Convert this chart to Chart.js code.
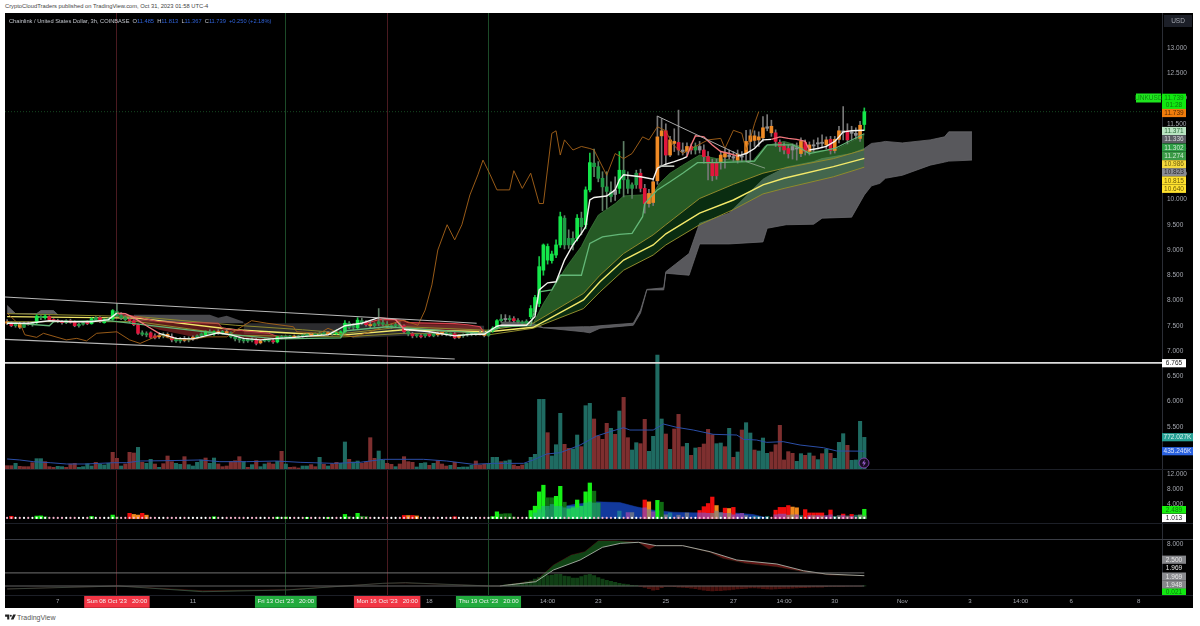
<!doctype html>
<html><head><meta charset="utf-8">
<script src="https://cdn.jsdelivr.net/npm/chart.js@4"></script>
<style>
html,body{margin:0;padding:0;background:#fff;width:1200px;height:626px;overflow:hidden;font-family:"Liberation Sans",Arial,sans-serif}
#pub{position:absolute;left:5px;top:2px;font-size:5.8px;line-height:8px;color:#444}
#frame{position:absolute;left:5px;top:13px;width:1188px;height:595px;background:#000}
canvas{position:absolute;left:5px}
.sep{position:absolute;left:5px;width:1188px;height:1px;background:#1c1f27}
#legend{position:absolute;left:9px;top:16.5px;font-size:5.7px;line-height:8px;color:#c3c6cd;white-space:pre}
#legend b{font-weight:normal;color:#2f62d8}
#foot{position:absolute;left:17px;top:613px;font-size:7px;line-height:9px;color:#555}
#logo{position:absolute;left:5px;top:614px}
#bolt{position:absolute;left:858px;top:457px}
</style></head><body>
<div id="pub">CryptoCloudTraders published on TradingView.com, Oct 31, 2023 01:58 UTC-4</div>
<div id="frame"></div>
<canvas id="cMain" width="1188" height="456" style="top:13px"></canvas>
<canvas id="cAdx" width="1188" height="70" style="top:469px"></canvas>
<canvas id="cMacd" width="1188" height="69" style="top:539px"></canvas>
<div class="sep" style="top:469px"></div>
<div class="sep" style="top:523px"></div>
<div class="sep" style="top:539px;background:#3a3d45"></div>
<div class="sep" style="top:595px"></div>
<div id="legend">Chainlink / United States Dollar, 3h, COINBASE  O<b>11.485</b>  H<b>11.813</b>  L<b>11.367</b>  C<b>11.739</b>  <b>+0.250 (+2.18%)</b></div>
<svg id="bolt" width="12" height="12" viewBox="0 0 12 12"><circle cx="6" cy="6" r="5" fill="#1a0d24" stroke="#7a3fa8" stroke-width="1"/><path d="M6.8 2.6 4 6.4h1.8L5.2 9.4 8 5.6H6.2z" fill="#9a5fd0"/></svg>
<svg id="logo" width="11" height="6" viewBox="0 0 36 20"><path d="M0 2h14v16H7V9H0z" fill="#222"/><circle cx="19" cy="6" r="3.5" fill="#222"/><path d="M27 2h9l-8 16h-9z" fill="#222"/></svg>
<div id="foot">TradingView</div>
<script>
/* ---------- time axis ---------- */
const slotCount = 274;
const tickBars = [12,26,44,66,90,100,114,128,140,156,172,184,196,212,228,240,252,268];
const tickTexts = ["7","Sun 08 Oct '23   20:00","11","Fri 13 Oct '23   20:00","Mon 16 Oct '23   20:00","18","Thu 19 Oct '23   20:00","14:00","23","25","27","14:00","30","Nov","3","14:00","6","8"];
const redMarks = [26,90];
const greenMarks = [66,114];

/* ---------- candles: LINK/USD 3h ---------- */
const opens = [
7.58,7.55,7.50,7.54,7.47,7.55,7.52,7.56,7.66,7.66,
7.68,7.62,7.60,7.58,7.56,7.60,7.57,7.50,7.53,7.56,
7.54,7.62,7.66,7.56,7.62,7.63,7.78,7.70,7.66,7.62,
7.60,7.52,7.36,7.34,7.36,7.30,7.28,7.30,7.33,7.28,
7.23,7.20,7.24,7.22,7.25,7.27,7.30,7.32,7.38,7.34,
7.38,7.36,7.38,7.36,7.28,7.24,7.22,7.20,7.23,7.22,
7.16,7.20,7.22,7.20,7.18,7.26,7.28,7.27,7.29,7.27,
7.30,7.29,7.33,7.31,7.35,7.33,7.36,7.34,7.36,7.33,
7.38,7.55,7.47,7.46,7.60,7.56,7.52,7.50,7.54,7.56,
7.53,7.48,7.50,7.52,7.50,7.38,7.34,7.30,7.30,7.30,
7.33,7.30,7.34,7.34,7.36,7.33,7.34,7.27,7.30,7.32,
7.33,7.34,7.36,7.35,7.31,7.40,7.45,7.60,7.63,7.62,
7.64,7.60,7.57,7.55,7.68,7.78,7.94,8.60,8.80,8.79,
8.90,9.10,9.63,9.23,9.10,9.23,9.63,9.50,10.19,10.72,
10.65,10.42,10.25,10.15,10.10,10.22,10.58,10.39,10.22,10.29,
10.52,10.22,9.92,9.94,10.37,11.26,11.36,10.88,11.15,11.13,
10.98,10.95,11.05,10.98,11.05,10.98,10.85,10.72,10.72,10.75,
10.84,10.88,10.85,10.78,10.86,10.91,11.15,11.26,11.18,11.22,
11.41,11.45,11.32,11.13,11.06,11.01,10.98,11.02,10.91,11.13,
10.95,11.08,11.10,11.12,11.08,11.19,10.97,11.19,11.36,11.36,
11.34,11.31,11.21,11.485];
const closes = [
7.55,7.50,7.54,7.47,7.55,7.52,7.56,7.69,7.67,7.69,
7.62,7.60,7.58,7.56,7.60,7.57,7.50,7.53,7.56,7.54,
7.64,7.66,7.58,7.62,7.63,7.80,7.70,7.66,7.62,7.60,
7.52,7.35,7.33,7.32,7.27,7.26,7.30,7.33,7.28,7.22,
7.20,7.24,7.21,7.25,7.27,7.30,7.34,7.38,7.34,7.38,
7.36,7.39,7.36,7.28,7.24,7.22,7.20,7.23,7.21,7.15,
7.20,7.22,7.20,7.18,7.28,7.29,7.27,7.29,7.27,7.30,
7.29,7.33,7.31,7.35,7.33,7.36,7.34,7.36,7.34,7.38,
7.55,7.47,7.50,7.61,7.56,7.52,7.50,7.54,7.58,7.53,
7.48,7.50,7.52,7.49,7.38,7.34,7.30,7.32,7.28,7.33,
7.30,7.34,7.32,7.37,7.33,7.34,7.26,7.31,7.32,7.33,
7.34,7.36,7.34,7.31,7.40,7.45,7.60,7.63,7.62,7.64,
7.60,7.58,7.55,7.59,7.84,8.06,8.67,9.10,9.07,8.92,
9.10,9.66,9.10,9.10,9.23,9.63,9.46,10.19,10.73,10.65,
10.42,10.25,10.16,10.06,10.19,10.58,10.39,10.22,10.29,10.52,
10.22,9.92,10.12,10.35,11.24,11.36,10.88,11.18,11.11,10.98,
10.95,11.05,10.98,11.05,10.98,10.85,10.72,10.47,10.47,10.88,
10.91,10.85,10.82,10.90,10.84,11.15,11.26,11.17,11.24,11.42,
11.44,11.32,11.15,11.05,10.98,10.91,11.05,11.00,11.15,10.95,
11.08,11.06,11.12,11.11,11.18,10.97,11.19,11.36,11.33,11.18,
11.31,11.27,11.47,11.739];
const highs = [
7.62,7.58,7.56,7.57,7.57,7.58,7.58,7.72,7.70,7.72,
7.70,7.64,7.63,7.60,7.62,7.63,7.60,7.55,7.58,7.60,
7.66,7.68,7.68,7.64,7.66,7.82,7.94,7.76,7.70,7.66,
7.62,7.54,7.40,7.38,7.38,7.34,7.36,7.36,7.36,7.34,
7.27,7.27,7.29,7.28,7.30,7.32,7.36,7.40,7.42,7.40,
7.42,7.41,7.42,7.38,7.31,7.28,7.26,7.25,7.26,7.25,
7.22,7.24,7.25,7.24,7.29,7.31,7.30,7.31,7.32,7.31,
7.33,7.34,7.36,7.36,7.38,7.38,7.39,7.38,7.42,7.40,
7.60,7.58,7.54,7.66,7.65,7.60,7.60,7.56,7.84,7.62,
7.58,7.54,7.56,7.56,7.52,7.42,7.37,7.34,7.33,7.35,
7.37,7.36,7.38,7.40,7.39,7.36,7.37,7.33,7.34,7.35,
7.36,7.37,7.40,7.39,7.42,7.48,7.62,7.72,7.72,7.70,
7.68,7.64,7.60,7.62,7.90,8.10,8.87,9.12,9.12,8.98,
9.20,9.75,9.68,9.40,9.36,9.70,9.75,10.25,10.92,11.00,
10.75,10.55,10.55,10.35,10.45,10.95,11.15,10.55,10.33,10.58,
10.60,10.30,10.20,10.42,11.65,11.60,11.50,11.25,11.40,11.77,
11.12,11.12,11.10,11.12,11.15,11.08,10.95,10.80,10.80,10.95,
11.00,10.98,10.95,10.98,10.95,11.37,11.38,11.36,11.34,11.64,
11.68,11.57,11.38,11.18,11.12,11.08,11.10,11.12,11.22,11.18,
11.14,11.18,11.22,11.28,11.24,11.25,11.25,11.45,11.84,11.50,
11.45,11.42,11.55,11.813];
const lows = [
7.52,7.48,7.47,7.44,7.46,7.51,7.49,7.54,7.62,7.63,
7.60,7.57,7.56,7.53,7.54,7.55,7.48,7.47,7.51,7.52,
7.53,7.58,7.56,7.55,7.58,7.61,7.68,7.62,7.60,7.56,
7.50,7.33,7.30,7.28,7.25,7.24,7.25,7.26,7.26,7.18,
7.17,7.16,7.18,7.18,7.21,7.24,7.27,7.30,7.32,7.31,
7.33,7.33,7.32,7.26,7.20,7.17,7.16,7.17,7.18,7.12,
7.14,7.18,7.18,7.15,7.16,7.24,7.24,7.25,7.25,7.26,
7.27,7.28,7.29,7.30,7.31,7.30,7.32,7.31,7.33,7.30,
7.36,7.44,7.42,7.44,7.52,7.49,7.46,7.47,7.50,7.50,
7.46,7.44,7.46,7.46,7.35,7.30,7.26,7.27,7.26,7.27,
7.28,7.28,7.29,7.31,7.30,7.29,7.24,7.25,7.27,7.29,
7.30,7.31,7.32,7.28,7.29,7.37,7.43,7.57,7.58,7.58,
7.57,7.55,7.52,7.50,7.64,7.72,7.88,8.50,8.72,8.74,
8.85,9.05,9.02,9.03,9.00,9.18,9.30,9.42,10.15,10.45,
10.35,9.78,9.82,9.95,9.98,10.12,10.05,10.12,10.02,10.22,
10.15,9.73,9.85,9.88,10.30,10.68,10.68,10.85,10.95,10.88,
10.88,10.85,10.90,10.90,10.92,10.72,10.39,10.37,10.40,10.60,
10.62,10.80,10.76,10.72,10.75,10.75,10.75,11.05,11.05,11.15,
11.36,11.25,11.05,10.95,10.90,10.82,10.80,10.78,10.85,10.88,
10.88,10.95,11.00,11.02,11.00,10.90,10.92,11.12,11.18,11.10,
11.18,11.20,11.15,11.367];
const candleTones = ("O R D O D R D G D G "+"R R R R D R R D D R "+"G D R G D G D D D R "+"R R D D R R O D O R "+"D D O D O D D G D G "+"O D O D D D D D D R "+"O D D R G D D D O D "+"D D O D D D O D G G "+"G D D G D R O D D D "+"D D D D R D R D R D "+"R D O O D D R O D D "+"D D O O D G G D W D "+"R D D D G G G G G G "+"G G D D D G D G G D "+"D D D D W G D D D D "+"R R O O O O R O O R "+"W O R D W R R R R O "+"O W W O W O O O O O "+"W O R R R R W W O R "+"O W W W O R O O W R "+"W W O G").split(" ");

/* ---------- volume (thousands) ---------- */
const volumes = [
81,81,138,65,57,57,154,252,252,179,
57,41,65,57,41,122,138,41,57,130,
73,163,114,98,138,407,260,73,122,407,
390,528,163,138,236,122,41,130,317,179,
138,114,301,106,73,163,220,268,138,268,
122,57,73,187,203,301,179,41,106,203,
57,122,154,122,187,431,122,41,49,24,
73,73,106,57,285,114,73,122,163,138,
659,236,171,195,138,171,764,260,439,220,
138,114,57,122,301,179,163,49,138,154,
89,138,203,122,73,89,163,41,49,49,
89,195,98,114,114,285,285,179,195,220,
98,65,98,138,285,358,1699,1699,886,317,
593,1358,602,504,488,829,545,1545,1602,1220,
805,724,1114,992,846,1415,1748,764,463,642,
618,1211,431,797,2780,1220,854,480,976,1333,
545,626,333,512,528,610,967,837,618,634,
545,992,285,415,951,1130,878,463,439,756,
382,415,593,1065,220,423,382,187,374,333,
390,317,228,374,480,382,260,650,862,577,
211,220,1163,772.027];
const volumeDirs = ("d d u d d d d u u d "+"d d u u d d d u u u "+"u d u u u d d u d d "+"d u d u u d u d d d "+"u u d u u u u d u u "+"d d d d d d u d u d "+"u u d d u d u d d d "+"u u d d u d u d d u "+"u d u u d d d d u u "+"d d u d d d d u u u "+"d u d d d u d u u u "+"u d d d u u u d u u "+"d d d u u u u u d u "+"u u d d u u d u u d "+"d d d u d u d d u u "+"d d u u u u d u d d "+"d u d u d d d d u u "+"d u d u d u u d u u "+"u d d d d d d u u d "+"u d u d u d u u u d "+"u u u u").split(" ");
const volMaX = [0,3,6.2,10.2,14.1,18.8,25.2,28.3,31.5,37.8,45.7,50.4,56.7,63.8,69.4,77.3,83.6,89.1,98.6,104.1,110.4,115,122.3,124.6,127.8,131,135.7,139.6,142.8,146,147.5,153,155.4,158.6,162.5,167.2,172.8,174.4,177.5,179.9,183.8,187.8,193.3,196.5,203];
const volMaY = [244,220,179,154,122,122,154,154,195,203,220,179,179,195,163,138,163,236,236,195,114,138,138,220,366,398,585,805,911,1008,951,951,1098,1016,951,846,829,724,707,650,667,585,520,439,435.246];

/* ---------- price overlays ---------- */
const fastX = [0,5,10,15,20,24,26,28,30,33,36,40,44,48,50,53,56,60,64,68,72,76,80,84,88,92,94,100,106,110,113,116,117,123,125,126,128,130,132,134,136,137,138,139,142,144,145,146,148,150,153,154,156,158,160,161,162,163,165,167,169,171,173,175,177,179,181,183,185,187,189,190,192,194,196,197,198,200,203];
const fastY = [7.55,7.55,7.60,7.58,7.58,7.62,7.75,7.74,7.66,7.50,7.35,7.25,7.24,7.32,7.36,7.32,7.25,7.22,7.25,7.27,7.30,7.32,7.50,7.55,7.66,7.62,7.43,7.38,7.30,7.33,7.33,7.49,7.51,7.51,7.68,8.21,8.35,8.37,8.80,9.10,9.33,9.46,9.99,10.04,10.07,10.19,10.39,10.49,10.47,10.45,10.40,10.62,10.70,10.75,10.81,10.85,11.08,11.26,11.24,11.08,10.95,10.91,10.86,10.91,11.01,11.18,11.19,11.24,11.21,11.19,11.15,10.98,11.01,11.05,11.15,11.24,11.34,11.36,11.371];
const fastRedSpans = [[25,36],[86,94],[161,173],[181,190]];

const innerX = [0,10,11,24,50,64,79,80,90,113,117,124,126,129,131,136,138,141,145,148,150.5,151,154,157,160,163.5,168,175,177,180,186,188,190,196,203];
const innerY = [7.56,7.50,7.58,7.60,7.35,7.24,7.26,7.40,7.48,7.35,7.48,7.50,8.17,8.21,8.50,8.50,9.13,9.26,9.31,9.33,9.66,9.92,10.19,10.35,10.52,10.73,10.73,10.75,10.76,11.08,11.08,11.01,10.91,11.01,11.302];

const cloudX = [124.6,127,132.5,136,138,140,144,146,150,153,154.5,157,160,164,168,172,176.7,179.5,184,188,190,196,203];
const cloudTop = [7.55,7.94,8.67,9.07,9.40,9.69,9.92,10.07,10.09,10.12,10.32,10.52,10.68,10.88,10.81,10.78,10.77,11.06,11.15,11.05,10.95,10.98,11.274];

const goldX = [0,31,54,70,80,94,114,124.6,136.5,140.4,146,153,156,164,172,179,184,195.7,203];
const goldUp = [7.74,7.68,7.51,7.42,7.35,7.48,7.41,7.55,8.14,8.50,8.93,9.30,9.50,10.02,10.30,10.52,10.62,10.81,10.986];
const goldMid = [7.68,7.65,7.42,7.34,7.32,7.42,7.38,7.47,8.01,8.37,8.80,9.10,9.32,9.73,9.99,10.29,10.42,10.65,10.815];
const goldLow = [7.58,7.58,7.31,7.29,7.28,7.35,7.32,7.45,7.84,8.17,8.60,8.90,9.10,9.50,9.80,10.11,10.22,10.45,10.640];

const redAX = [26,30,36,44,50,51,56,62,65];
const redATop = [7.73,7.69,7.58,7.56,7.55,7.45,7.40,7.35,7.26];
const redABot = [7.72,7.60,7.42,7.28,7.34,7.33,7.26,7.22,7.25];
const redBX = [85,88,92,94,95,100,106,109,112,113];
const redBTop = [7.55,7.62,7.62,7.60,7.56,7.55,7.54,7.52,7.48,7.36];
const redBBot = [7.52,7.50,7.50,7.48,7.42,7.40,7.36,7.35,7.34,7.34];

const ichiAX = [0,2,7,8,11,12];
const ichiATop = [7.90,7.74,7.74,7.80,7.80,7.72];
const ichiABot = [7.74,7.74,7.74,7.74,7.74,7.72];
const ichiBX = [30,40,48,50,52,56];
const ichiBTop = [7.72,7.72,7.72,7.66,7.70,7.58];
const ichiBBot = [7.60,7.56,7.55,7.55,7.55,7.55];
const ichiDarkX = [56,80,82,113];
const ichiDarkTop = [7.55,7.55,7.55,7.50];
const ichiDarkBot = [7.33,7.33,7.25,7.38];
const ichiCX = [117,124,127,136.5,138,140.4,148.3,150,151.5,155.5,156,161.5,164,171,179,180,184.5,191,193,200,203,204.7,206.7,208,212,218.6,222,223,228.5];
const ichiCTop = [7.57,7.57,7.46,7.48,7.48,7.50,7.55,7.81,8.22,8.25,8.57,8.93,9.53,9.73,10.40,10.45,10.64,10.75,10.81,10.91,11.01,11.11,11.13,11.15,11.12,11.18,11.24,11.34,11.34];
const ichiCBot = [7.50,7.50,7.46,7.38,7.36,7.45,7.51,7.75,8.21,8.21,8.54,8.50,9.12,9.12,9.16,9.43,9.50,9.51,9.63,9.65,10.09,10.27,10.32,10.42,10.48,10.68,10.74,10.76,10.78];

const lagX = [0,3.4,4.2,7,8.6,14,16.5,18.8,21.2,26,29,31.5,36.2,38.6,43.3,47.3,52,54.4,57.9,61.5,67.8,68.6,74,76,79.6,82,86,90,93.8,97.3,99,100.6,102,104.2,106,107.7,109.6,111.5,112.7,114.4,116,119,120,122,124,126,127,129,130,131,132,134,136,138,139,142,144,146,148,150.5,152,154,156,157.5,160,163,166,169,170,172,174,175,176,177,178];
const lagY = [7.75,7.48,7.32,7.27,7.35,7.22,7.25,7.20,7.35,7.38,7.22,7.15,7.32,7.25,7.22,7.28,7.28,7.42,7.60,7.55,7.48,7.38,7.35,7.45,7.32,7.28,7.38,7.51,7.61,7.51,7.81,8.31,9.00,9.50,9.20,9.50,10.09,10.49,10.78,10.49,10.19,10.19,10.57,10.22,10.52,9.92,9.92,11.31,11.36,10.88,11.18,10.98,11.05,11.01,10.98,10.48,10.91,10.81,10.91,11.24,11.18,11.44,11.36,11.10,10.91,11.05,11.18,11.21,11.01,11.37,11.31,10.98,11.20,11.50,11.739];

const channelUpperX = [-0.5,111.2];
const channelUpperY = [8.07,7.55];
const channelLowerX = [-0.5,106];
const channelLowerY = [7.23,6.84];
const trendX = [154,173.5];
const trendY = [11.65,10.88];
const stubX = [154.5,158];
const stubY = [10.66,10.66];
const fadeX = [175,179.5];
const fadeY = [10.75,10.62];
const supportLevel = 6.765;
const lastPrice = 11.739;
const priceTicks = [13,12.5,12,11.5,11,10.5,10,9.5,9,8.5,8,7.5,7,6.5,6,5.5];

/* ---------- momentum pane ---------- */
const momBars = [1,7,8,9,20,25,26,29,30,31,32,33,49,64,66,71,76,80,81,83,84,85,94,95,96,97,106,115,116,117,118,119,120,124,125,126,127,128,129,130,131,132,133,134,135,136,137,138,139,140,151,152,154,155,164,165,166,167,168,170,171,172,182,183,184,185,186,187,189,190,191,192,193,195,198,200,202,203];
const momVals = [.6,.65,.7,.5,.55,.93,.4,1.4,1.1,.93,1.4,.9,.46,.37,.37,.3,.3,1.1,.5,1.4,.6,.5,.83,.8,.83,.7,.46,.5,1.8,1.2,1.3,1.3,.4,2.16,3.33,7.2,9.0,5.6,5.6,6.0,8.7,4.4,2.6,2.9,5.0,3.33,7.2,9.6,7.4,4.2,5.0,4.5,4.9,4.4,2.16,3.2,4.05,5.8,3.5,2.8,2.7,3.0,2.25,3.0,3.0,3.5,3.1,2.9,2.4,1.5,1.5,1.5,1.5,2.3,1.2,1.1,.8,2.489];
const momTones = "R G G D G G D R O O R O G G G G G G D G D D R O R O R G G D D D D G G G G D D G G D G G G G G G D D R O G D R R R R O R O R R R R R O O R R R R R R R R G G".split(" ");
const sideBars = [125,126,127,128,129,130,131,132,133,134,135,136,137,138,139,140,145,147,148,151,152,153,156,157,159,161,164,165,166,167,168,169,170,171,172,173,174,175,177,178,180,182,183,184,185,186,187,188,190,191,192,193,194,195,196,197,198,199,200,201,202,203];
const sideVals = [1.5,2.4,3.3,3.3,3.8,3.3,3.3,2.9,3.3,3.3,2.9,3.3,4.2,4.5,4.2,4.2,2.0,1.6,1.6,2.9,2.4,1.8,1.0,1.5,.9,1.5,1.5,1.5,1.4,1.4,2.0,1.6,1.4,1.4,1.0,1.2,1.4,.8,.6,.5,.6,1.0,1.2,1.2,.9,1.0,1.0,.8,.8,.8,.8,.7,.8,1.0,.6,.8,.8,.7,.6,.9,1.0,.7];
const sideTones = "T T T T T T T T T T T T T T T T T P A P A P A T A A P P P A A A P A P P P A T T T P P P A A P T P A P A P P T A P A P T A A".split(" ");
const humpX = [124.6,127.8,134.1,139.6,145.1,149,153,157.7,162.5,167.2,172,176.7,179.9];
const humpY = [.18,2.43,3.78,4.5,4.32,3.15,2.25,1.71,1.53,1.53,1.53,1.08,.18];
const dotLevel = 0.15;
const momTicks = [12,8,4];

/* ---------- MACD pane ---------- */
const macdX = [0,26.4,46.3,66.3,89,94.4,114.4,116.7,125.2,129.4,135.7,141,145.3,149.5,153.7,160,166.5,172.8,182.3,188.6,193.9,203];
const macdY = [-.57,0,-1.09,-.76,.51,.63,0,0,.82,3.05,4.95,7.37,8.13,8.32,7.68,7.68,6.53,4.95,4.19,2.91,2.29,1.969];
const signalX = [0,26.4,46.3,66.3,89,94.4,114.4,116.7,125.2,129.4,133.6,136.8,140,144.2,149.5,152,153.7,160,166.5,169.5,174.9,182.3,188.6,195,203];
const signalY = [-.55,0,-.9,-.7,.5,.55,0,0,.95,4,5.9,6.53,8.6,8.6,8.32,7.0,7.68,7.68,6.4,5.27,4.32,3.68,2.73,2.1,1.948];
const histBars = [118,119,120,121,122,123,124,125,126,127,128,129,130,131,132,133,134,135,136,137,138,139,140,141,142,143,144,145,146,147,148,149,150,151,152,153,154,155,156,157,158,159,160,161,162,163,164,165,166,167,168,169,170,171,172,173,174,175,176,177,178,179,180,181,182,183,184,185,186,187,188,189,190,191,192,193,194,195,196,197,198,199,200,201,202,203];
const histVals = [.2,.3,.4,.5,.6,.8,1.0,1.3,1.6,1.9,2.0,2.1,2.2,2.2,1.9,1.8,1.5,1.5,1.8,2.1,2.2,2.0,1.6,1.3,1.1,.9,.7,.5,.35,.25,.15,.1,-.1,-.25,-.5,-.8,-.7,-.3,-.1,-.1,-.15,-.2,-.25,-.3,-.4,-.5,-.65,-.8,-.9,-.95,-.9,-.9,-.8,-.75,-.65,-.55,-.5,-.45,-.35,-.35,-.4,-.5,-.55,-.6,-.55,-.5,-.45,-.45,-.4,-.35,-.3,-.3,-.25,-.2,-.2,-.2,-.15,-.1,-.1,-.1,-.1,-.05,-.05,-.03,-.02,.021];
const macdLevels = [2.5,0];
const macdTicks = [8];

/* ---------- styling ---------- */
const FONT = '"Liberation Sans", Arial, sans-serif';
const AXIS_TEXT = '#a4a7af';
const candleColor = {G:'#14e64a',D:'#1f9a45',R:'#e0163c',O:'#f08a24',W:'#8d8f92'};
const volColor = {u:'#1f6b62',d:'#7e2f2f'};
const momColor = {G:'#16f016',D:'#0f6b12',R:'#f00d0d',O:'#f0891c'};
const sideColor = {T:'rgba(38,170,150,.55)',P:'rgba(150,70,170,.78)',A:'rgba(130,130,130,.72)'};

const pts = (xs,ys)=>xs.map((x,i)=>({x,y:ys[i]}));
const line = (xs,ys,color,width,order,extra)=>Object.assign({type:'line',data:pts(xs,ys),borderColor:color,borderWidth:width,pointRadius:0,fill:false,tension:0,order,yAxisID:'y'},extra||{});
const bars = (data,colors,thick,order,extra)=>Object.assign({type:'bar',data,backgroundColor:colors,borderWidth:0,barThickness:thick,grouped:false,order,yAxisID:'y'},extra||{});
const allBars = opens.map((_,i)=>i);

const tagPlugin = tags => ({id:'tags',afterDraw(chart){
  const c = chart.ctx, top = parseFloat(chart.canvas.style.top);
  c.save();
  c.textBaseline='middle';
  for(const t of tags){
    const x=(t.x||1162)-5, w=t.w||24, h=t.h||8.2, y=t.y-top;
    if(t.bg){c.fillStyle=t.bg;c.fillRect(x,y-h/2,w,h);}
    c.fillStyle=t.fg;c.textAlign='center';c.font='6.5px '+FONT;
    c.fillText(t.text,x+w/2,y+.3);
  }
  c.restore();
}});

const isMark = v => redMarks.includes(v)||greenMarks.includes(v);
const xScale = (showLabels)=>({
  type:'linear',min:-.5,max:slotCount-.5,offset:false,
  afterBuildTicks:s=>{s.ticks=tickBars.map(value=>({value}));},
  afterFit:s=>{s.height=showLabels?12.5:0;s.paddingLeft=0;s.paddingRight=0;},
  grid:{display:true,drawTicks:false,offset:false,lineWidth:1,
    color:c=>redMarks.includes(c.tick&&c.tick.value)?'#4a1a20':greenMarks.includes(c.tick&&c.tick.value)?'#1c4a28':'rgba(0,0,0,0)'},
  border:{display:false},
  ticks:{display:showLabels,autoSkip:false,maxRotation:0,minRotation:0,padding:2.5,
    callback:(v,i)=>tickTexts[i],
    font:{size:6.1,family:FONT},
    color:c=>isMark(c.tick&&c.tick.value)?'#f2f2f2':AXIS_TEXT,
    showLabelBackdrop:c=>isMark(c.tick&&c.tick.value),
    backdropColor:c=>redMarks.includes(c.tick&&c.tick.value)?'#f23645':'#22ab3e',
    backdropPadding:{x:2.5,y:2.5}}
});
const yScale = (min,max,list)=>({
  position:'right',min,max,
  afterBuildTicks:s=>{s.ticks=list.map(value=>({value}));},
  afterFit:s=>{s.width=31;s.paddingTop=0;s.paddingBottom=0;},
  grid:{display:false,drawTicks:false},
  border:{display:true,color:'#2a2d35',width:1},
  ticks:{color:AXIS_TEXT,padding:5,autoSkip:false,font:{size:6.5,family:FONT},callback:v=>v.toFixed(3)}
});
const baseOptions = (scales)=>({
  responsive:false,animation:false,devicePixelRatio:1,
  layout:{padding:0,autoPadding:false},
  scales,
  plugins:{legend:{display:false},tooltip:{enabled:false},title:{display:false}}
});

/* ---------- main pane ---------- */
const mainSets=[];
const pairFill=(xs,top,bot,color,order,edge)=>{
  const idx=mainSets.push(line(xs,bot,edge||'rgba(0,0,0,0)',edge?.8:0,order))-1;
  mainSets.push(line(xs,top,edge||'rgba(0,0,0,0)',edge?.8:0,order,{fill:{target:idx},backgroundColor:color}));
};
mainSets.push(bars(allBars.map((x,i)=>({x,y:volumes[i]})),volumeDirs.map(d=>volColor[d]),3.4,90,{yAxisID:'yv'}));
mainSets.push(line(volMaX,volMaY,'#2b4fa8',1,20,{yAxisID:'yv'}));
pairFill(ichiAX,ichiATop,ichiABot,'#5e5e62',80,'#66666a');
pairFill(ichiBX,ichiBTop,ichiBBot,'#4a4a4e',80);
pairFill(ichiDarkX,ichiDarkTop,ichiDarkBot,'#2c2c2f',80);
pairFill(ichiCX,ichiCTop,ichiCBot,'#58585c',80,'#68686c');
pairFill(redAX,redATop,redABot,'rgba(150,40,40,.62)',70);
pairFill(redBX,redBTop,redBBot,'rgba(150,40,40,.62)',70);
const bandTop=goldUp.slice(7), bandX=goldX.slice(7), bandLow=goldLow.slice(7);
const bandLowIdx=mainSets.push(line(bandX,bandLow,'rgba(0,0,0,0)',0,66))-1;
const bandTopIdx=mainSets.push(line(bandX,bandTop,'rgba(0,0,0,0)',0,66,{fill:{target:bandLowIdx},backgroundColor:'rgba(30,130,50,.35)'}))-1;
mainSets.push(line(cloudX,cloudTop,'#3b7a3a',.8,65,{fill:{target:bandTopIdx},backgroundColor:'rgba(63,150,62,.6)'}));
mainSets.push(line(goldX,goldUp,'#8f8a2c',1,60));
mainSets.push(line(goldX,goldLow,'#8f8a2c',1,60));
mainSets.push(line(goldX,goldMid,'#f3e96a',1.4,59));
mainSets.push(line(redAX,redATop,'#c9404a',1,58));
mainSets.push(line(redBX,redBTop,'#d8404c',1.2,58));
mainSets.push(bars(allBars.map((x,i)=>({x,y:[lows[i],highs[i]]})),candleTones.map(t=>t==='G'?'#16c846':(t==='D'?'#5f7f66':'#777777')),1,40));
mainSets.push(bars(allBars.map((x,i)=>({x,y:[Math.min(opens[i],closes[i]),Math.max(opens[i],closes[i])]})),candleTones.map(t=>candleColor[t]),3,39,{minBarLength:1.2}));
mainSets.push(line(lagX,lagY,'#a8641a',.9,30));
mainSets.push(line(innerX,innerY,'#63b777',1.3,28));
mainSets.push(line(fadeX,fadeY,'rgba(150,170,150,.8)',1,27));
mainSets.push(line(fastX,fastY,'#f4f4f0',1.4,26,{segment:{borderColor:c=>fastRedSpans.some(s=>c.p0.parsed.x>=s[0]&&c.p0.parsed.x<s[1])?'#f0767c':'#f4f4f0'}}));
mainSets.push(line(trendX,trendY,'#a9a9a9',1,25));
mainSets.push(line(stubX,stubY,'#bfc4bd',1.6,25));
mainSets.push(line(channelUpperX,channelUpperY,'#b8b8b8',1.1,24));
mainSets.push(line(channelLowerX,channelLowerY,'#b8b8b8',1.1,24));
mainSets.push(line([-.5,slotCount-.5],[supportLevel,supportLevel],'#dcdcdc',1.6,23));
mainSets.push(line([-.5,slotCount-.5],[lastPrice,lastPrice],'rgba(40,130,60,.55)',1,95,{borderDash:[1,2]}));

const mainTags=[
 {text:'USD',x:1164,w:28,h:12,y:21,bg:'#1c1f28',fg:'#a4a7af'},
 {text:'LINKUSD',x:1136,w:25,h:9,y:98,bg:'#1fe61f',fg:'#0d8a0d'},
 {text:'11.739',y:97.7,h:8,bg:'#10e810',fg:'#0b7d0b'},
 {text:'01:28',y:105,h:8,bg:'#10e810',fg:'#0b7d0b'},
 {text:'11.739',y:113,bg:'#f07d0c',fg:'#5a2c00'},
 {text:'11.371',y:131,bg:'#b9e3c2',fg:'#2b6a3a'},
 {text:'11.336',y:139.2,bg:'#5d5f66',fg:'#d4d5d8'},
 {text:'11.302',y:147.6,bg:'#2f9e46',fg:'#cfe9d3'},
 {text:'11.274',y:155.9,bg:'#3a9a46',fg:'#cfe9d3'},
 {text:'10.986',y:164.3,bg:'#f5d93e',fg:'#6b5a0a'},
 {text:'10.823',y:172.4,bg:'#8a8c94',fg:'#26272b'},
 {text:'10.815',y:180.5,bg:'#ffe22e',fg:'#6b5a0a'},
 {text:'10.640',y:188.8,bg:'#ffe22e',fg:'#6b5a0a'},
 {text:'6.765',y:363.2,bg:'#ffffff',fg:'#222'},
 {text:'772.027K',w:31,y:437.2,bg:'#26a195',fg:'#d8f2ee'},
 {text:'435.246K',w:31,y:451.2,bg:'#2a62e0',fg:'#d8e3fb'}
];
new Chart(document.getElementById('cMain'),{type:'line',data:{datasets:mainSets},
  options:baseOptions({x:xScale(false),y:yScale(4.663,13.693,priceTicks),yv:{display:false,min:0,max:11126}}),
  plugins:[tagPlugin(mainTags)]});

/* ---------- momentum pane ---------- */
new Chart(document.getElementById('cAdx'),{type:'line',data:{datasets:[
  line(humpX,humpY,'#12399c',.5,50,{fill:{value:0},backgroundColor:'#12399c'}),
  bars(momBars.map((x,i)=>({x,y:momVals[i]})),momTones.map(t=>momColor[t]),3.6,40),
  bars(sideBars.map((x,i)=>({x,y:sideVals[i]})),sideTones.map(t=>sideColor[t]),3.6,30),
  {type:'line',data:allBars.map(x=>({x,y:dotLevel})),showLine:false,pointRadius:1.1,pointBorderWidth:0,pointBackgroundColor:allBars.map(i=>closes[i]<opens[i]?'#f3b3cb':'#ffffff'),order:10,yAxisID:'y'}
]},options:baseOptions({x:xScale(false),y:yScale(-5.54,13.38,momTicks)}),
plugins:[tagPlugin([
 {text:'2.489',y:509.8,h:7.6,bg:'#17ee0e',fg:'#0a7a0a'},
 {text:'1.013',y:518,bg:'#ffffff',fg:'#222'}
])]});

/* ---------- MACD pane ---------- */
const macdSets=[];
macdSets.push(bars(histBars.map((x,i)=>({x,y:histVals[i]})),histVals.map(v=>v>=0?'#103f15':'#4a110e'),3.4,60));
const sigIdx=macdSets.push(line(signalX,signalY,'rgba(120,40,40,.55)',.6,55))-1;
macdSets.push(line(macdX,macdY,'#aab2a8',.9,50,{fill:{target:sigIdx,above:'rgba(130,25,25,.72)',below:'rgba(22,90,28,.75)'},segment:{borderColor:c=>c.p0.parsed.x<116?'#3c483e':'#aab2a8'}}));
for(const lv of macdLevels) macdSets.push(line([-.5,203],[lv,lv],lv?'rgba(130,130,130,.7)':'rgba(95,95,95,.7)',1.4,45));
new Chart(document.getElementById('cMacd'),{type:'line',data:{datasets:macdSets},
 options:baseOptions({x:xScale(true),y:yScale(-1.81,8.95,macdTicks)}),
 plugins:[tagPlugin([
 {text:'2.500',y:559.7,bg:'#85868a',fg:'#e8e8e8'},
 {text:'1.969',y:567.7,fg:'#e8e8e8'},
 {text:'1.969',y:576.6,bg:'#8a8b8f',fg:'#e8e8e8'},
 {text:'1.948',y:584.8,bg:'#85868a',fg:'#e8e8e8'},
 {text:'0.021',y:592,h:7,bg:'#12e812',fg:'#0a7a0a'}
 ])]});
</script>
</body></html>
